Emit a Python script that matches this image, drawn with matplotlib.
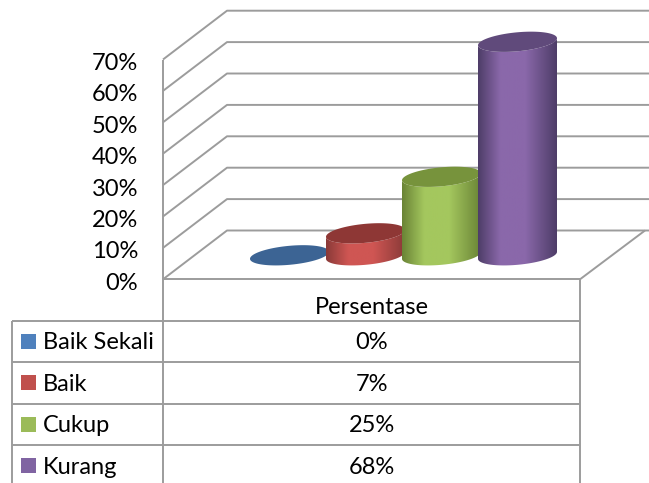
import numpy as np
import matplotlib
matplotlib.use("Agg")
import matplotlib.pyplot as plt
from matplotlib.colors import LinearSegmentedColormap
from matplotlib.patches import Polygon, Rectangle
from matplotlib.transforms import ScaledTranslation

categories = ["Baik Sekali", "Baik", "Cukup", "Kurang"]
values = [0, 7, 25, 68]
series_name = "Persentase"
y_ticks = [0, 10, 20, 30, 40, 50, 60, 70]

body_colors = [
    ["#36587f", "#4f81bd", "#36587f"],
    ["#8a3a38", "#cf5653", "#8a3a38"],
    ["#6a8436", "#a4c75e", "#6a8436"],
    ["#4e3d68", "#8a68aa", "#4e3d68"],
]
top_colors = ["#3c6494", "#8e3735", "#77933c", "#604a7b"]
legend_colors = ["#4f81bd", "#c0504d", "#9bbb59", "#8064a2"]
line_color = "#9c9c9c"

plt.rcParams["font.family"] = ["Lato", "DejaVu Sans"]
plt.rcParams["font.size"] = 17

# layout measured in pixels, everything else goes through the axes scales
W, H = 649, 483
PX_PER_PCT = 3.14
PX_PER_SLOT = 76.0
ZERO_Y = 279.3
FIRST_X = 289.5


def xp(px):
    return (np.asarray(px, dtype=float) - FIRST_X) / PX_PER_SLOT


def yp(px):
    return (ZERO_Y - np.asarray(px, dtype=float)) / PX_PER_PCT


fig = plt.figure(figsize=(W / 100, H / 100), dpi=100)
ax = fig.add_axes([0, 0, 1, 1])
ax.set_xlim(xp(0), xp(W))
ax.set_ylim(yp(H), yp(0))

for name, spine in ax.spines.items():
    spine.set_visible(False)
ax.set_xticks([])
ax.spines["left"].set_position(("data", xp(163)))
ax.set_yticks(y_ticks)
ax.set_yticklabels([f"{t}%" for t in y_ticks])
ax.tick_params(axis="y", length=0, pad=18)
# tick labels sit a little under their gridlines
nudge = ScaledTranslation(0, -1.5 / 72, fig.dpi_scale_trans)
for lab in ax.get_yticklabels():
    lab.set_transform(lab.get_transform() + nudge)


def line(xs, ys):
    ax.plot(xs, ys, color=line_color, lw=1.4, solid_capstyle="butt", zorder=1)


# walls and floor
depth_x = 64
depth_y = 48.8 / PX_PER_PCT
for t in y_ticks:
    line(xp([163, 163 + depth_x, 649]), [t, t + depth_y, t + depth_y])
line(xp([163, 163]), [0, 70])
line(xp([163, 580]), [0, 0])
line(xp([580, 645]), [0, depth_y])

# cylinders, each one overlaps the one on its left
half_w = 39.5
half_h = 9.5
skew = 3.5
floor_off = 24 / PX_PER_PCT
theta = np.linspace(0, 2 * np.pi, 181)
front = np.linspace(0, np.pi, 91)


def rim(i, level, t):
    x = xp(FIRST_X + PX_PER_SLOT * i + half_w * np.cos(t))
    y = level + (skew * np.cos(t) - half_h * np.sin(t)) / PX_PER_PCT
    return x, y


for i, v in enumerate(values):
    base = floor_off
    top = v + floor_off
    if v > 0:
        bx, by = rim(i, base, front)
        tx, ty = rim(i, top, front[::-1])
        outline = np.column_stack([np.r_[bx, tx], np.r_[by, ty]])
        cmap = LinearSegmentedColormap.from_list(
            "body", [(0, body_colors[i][0]), (0.28, body_colors[i][1]),
                     (0.6, body_colors[i][1]), (1, body_colors[i][2])])
        grad = np.linspace(0, 1, 128).reshape(1, -1)
        img = ax.imshow(grad, cmap=cmap, aspect="auto", zorder=2 + i,
                        extent=[xp(FIRST_X + PX_PER_SLOT * i - half_w),
                                xp(FIRST_X + PX_PER_SLOT * i + half_w),
                                base - 5, top + 5])
        patch = Polygon(outline, closed=True, fc="none", ec="none",
                        transform=ax.transData)
        ax.add_patch(patch)
        img.set_clip_path(patch)
    cx, cy = rim(i, top, theta)
    ax.fill(cx, cy, color=top_colors[i], lw=0, zorder=2 + i)

ax.set_xlim(xp(0), xp(W))
ax.set_ylim(yp(H), yp(0))

# data table below the plot
row_tops = [320.5, 362, 403.5, 445, 486.5]
for y in row_tops:
    line(xp([12, 580]), yp([y, y]))
line(xp([12, 12]), yp([row_tops[0], H]))
line(xp([163, 163]), yp([ZERO_Y, H]))
line(xp([580, 580]), yp([ZERO_Y, H]))

text_drop = 1.5
ax.text(xp(372), yp(306 + text_drop), series_name, ha="center", va="center")
for i, (cat, v) in enumerate(zip(categories, values)):
    mid = (row_tops[i] + row_tops[i + 1]) / 2
    ax.add_patch(Rectangle((xp(21), yp(mid + 7.5)), 15 / PX_PER_SLOT, 15 / PX_PER_PCT,
                           fc=legend_colors[i], ec="none", zorder=3))
    ax.text(xp(43), yp(mid + text_drop), cat, ha="left", va="center")
    ax.text(xp(372), yp(mid + text_drop), f"{v}%", ha="center", va="center")

fig.savefig("out.png", dpi=100)
